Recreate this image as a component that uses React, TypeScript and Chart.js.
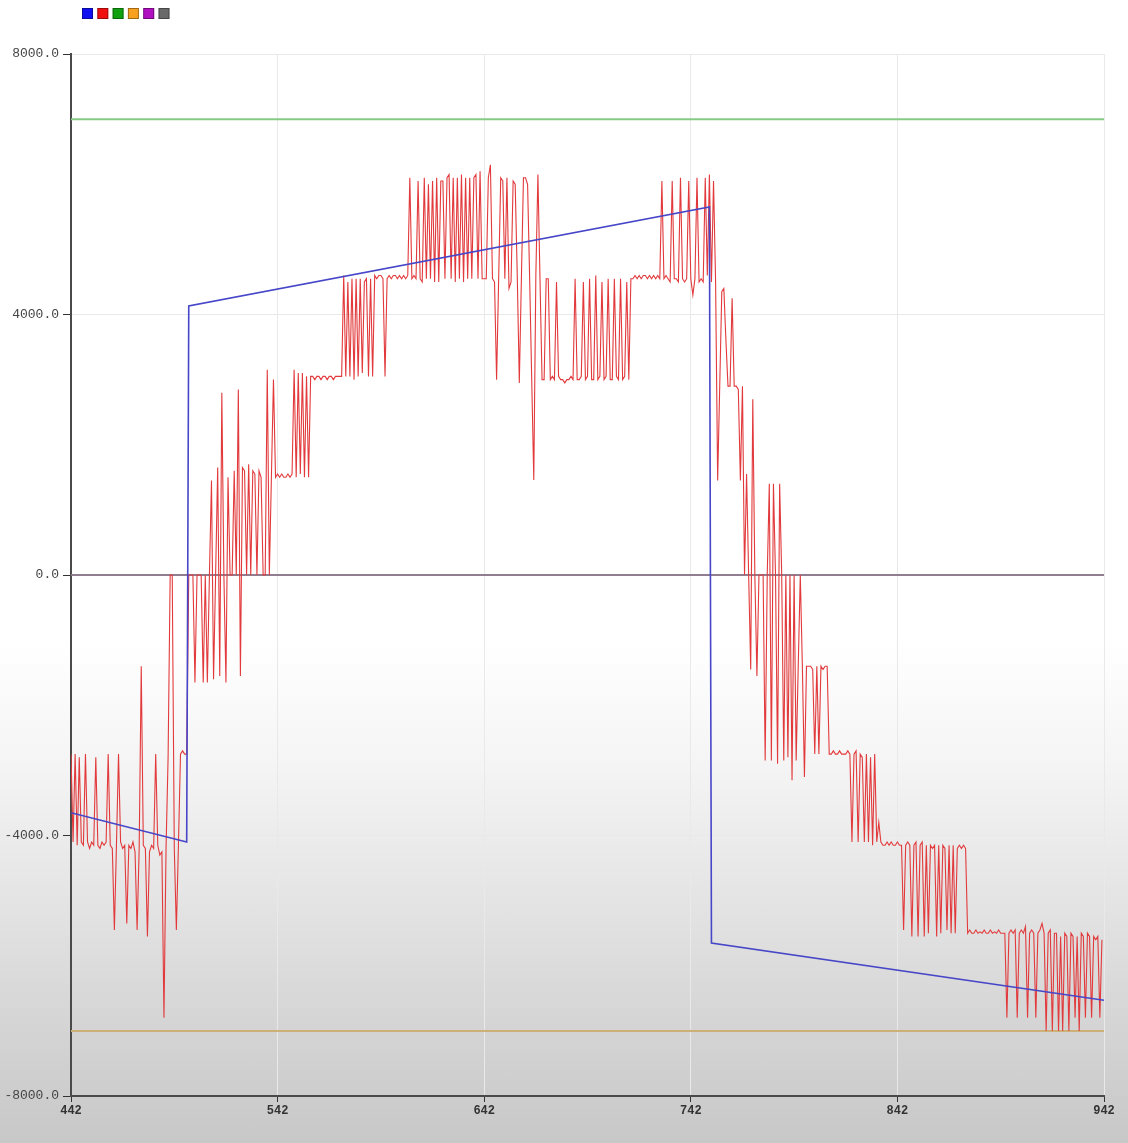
import React, { useEffect, useRef } from "react";
import { Chart, registerables } from "chart.js";

Chart.register(...registerables);

// ---- data ----
const xTicks = [442, 542, 642, 742, 842, 942];
const yTicks = [-8000, -4000, 0, 4000, 8000];
const sampleStart = 442;
const sampleEnd = 942;

const blueX = [442, 498, 499, 751, 752, 942];
const blueY = [-3650, -4100, 4130, 5650, -5650, -6530];

const greenLevel = 7000;
const orangeLevel = -7000;
const purpleLevel = 0;
const grayLevel = 0;

// red samples, one per x from 442 to 941
const redValues = [
  -2750, -4100, -2750, -4150, -2800, -4100, -4150, -2750, -4100, -4200,
  -4100, -4150, -2800, -4150, -4200, -4100, -4150, -4100, -2750, -4150,
  -4200, -5450, -4150, -2750, -4100, -4200, -4150, -5350, -4150, -4200,
  -4100, -4250, -5450, -4200, -1400, -4150, -4200, -5550, -4250, -4150,
  -4200, -2750, -4150, -4300, -4250, -6800, -4200, -2800, 0, 0,
  -4200, -5450, -4150, -2750, -2700, -2750, -2750, 0, 0, 0,
  -1650, 0, 0, 0, -1650, 0, -1650, 0, 1450, -1600,
  0, 1650, -1550, 2800, 0, -1650, 1500, 0, 0, 1600,
  0, 2850, -1550, 1650, 1600, 0, 1700, 0, 1600, 1550,
  0, 1600, 1500, 0, 0, 3150, 0, 1500, 3000, 1500,
  1550, 1500, 1550, 1500, 1500, 1550, 1500, 1550, 3150, 1500,
  3100, 1550, 3100, 1500, 3050, 1500, 3050, 3050, 3000, 3050,
  3050, 3000, 3050, 3050, 3000, 3050, 3050, 3000, 3050, 3050,
  3050, 3050, 4600, 3050, 4500, 3050, 4550, 3000, 4550, 3050,
  4550, 3100, 4500, 4550, 3050, 4550, 3050, 4600, 4550, 4600,
  4600, 4550, 3050, 4550, 4600, 4550, 4600, 4600, 4550, 4600,
  4550, 4600, 4550, 4600, 6100, 4550, 4600, 4550, 6050, 4550,
  4500, 6100, 4550, 6000, 4550, 6050, 4500, 6100, 4500, 6050,
  6050, 4550, 6100, 6150, 4550, 6100, 4500, 6100, 4550, 6150,
  4500, 6100, 4550, 6100, 4550, 6100, 6150, 4550, 6200, 4550,
  4550, 4550, 6100, 6300, 4550, 4500, 3000, 4550, 6100, 6050,
  4550, 6100, 4400, 4500, 6050, 6000, 4600, 2950, 4550, 6100,
  6100, 6000, 4550, 3000, 1460, 4600, 6150, 4550, 3000, 3000,
  4550, 4550, 3000, 3050, 3000, 4500, 3050, 3000, 3000, 2950,
  3000, 3000, 3050, 3000, 4550, 3000, 3000, 3050, 4500, 3000,
  3050, 4550, 3000, 3000, 4600, 3000, 3050, 4500, 3000, 3050,
  4550, 3000, 3000, 4550, 3050, 3000, 4550, 3000, 3050, 4500,
  3000, 4550, 4550, 4600, 4550, 4600, 4550, 4600, 4600, 4550,
  4600, 4550, 4600, 4550, 4600, 4550, 6050, 4550, 4600, 4550,
  4500, 6050, 4550, 4550, 4500, 6100, 4550, 4500, 4550, 6050,
  4550, 4300, 4550, 6100, 4500, 4550, 4500, 6100, 4600, 6150,
  4500, 6050, 4500, 1450, 2900, 4350, 4400, 3600, 2900, 2900,
  4250, 2900, 2900, 2850, 1450, 2900, 0, 1550, 0, -1450,
  2700, 0, -1550, 0, 0, 0, -2850, 0, 1400, -2850,
  1400, 0, -2900, 1400, 0, -2850, 0, -2800, 0, -3150,
  0, -2850, -1400, 0, -1400, -3100, -1400, -1400, -1400, -1450,
  -2750, -1400, -2750, -1400, -1450, -1400, -1400, -2750, -2750, -2700,
  -2750, -2750, -2700, -2750, -2750, -2750, -2700, -2750, -4100, -2750,
  -2700, -4100, -2750, -2800, -4100, -2750, -4100, -2800, -4150, -2750,
  -4100, -3800, -4100, -4150, -4150, -4100, -4150, -4100, -4150, -4150,
  -4100, -4150, -4150, -5450, -4150, -4100, -4150, -5550, -4150, -4100,
  -5550, -4150, -4100, -5550, -4150, -5500, -4150, -4200, -4150, -5550,
  -4150, -5500, -4150, -4200, -5450, -4150, -5500, -4150, -5500, -4200,
  -4150, -4200, -4150, -4200, -5500, -5450, -5500, -5500, -5450, -5500,
  -5480, -5500, -5450, -5500, -5500, -5450, -5500, -5480, -5500, -5450,
  -5500, -5500, -5500, -6800, -5500, -5450, -5500, -5450, -6800, -5500,
  -5450, -5500, -5400, -6800, -5500, -5450, -5500, -6800, -5500, -5450,
  -5350, -5500, -7000, -5500, -5450, -7000, -5500, -5500, -7000, -5550,
  -7000, -5500, -5550, -7000, -5500, -5550, -6800, -5550, -7000, -5500,
  -5550, -6800, -5500, -5550, -6800, -5550, -5600, -5550, -6800, -5600,
];

// ---- styles ----
const lineColors = {
  blue: "#4646c8",
  red: "#e23a3c",
  green: "#86ca86",
  orange: "#cdb078",
  purple: "#a040a0",
  gray: "#858585",
};
const legendColors = ["#1010f0", "#f01010", "#10a010", "#f8a020", "#b010c0", "#6a6a6a"];

const W = 1128;
const H = 1143;

const squareLegend = {
  id: "squareLegend",
  afterDraw(chart: any) {
    const ctx = chart.ctx;
    ctx.save();
    legendColors.forEach((c, i) => {
      const x = 82 + i * 15.3;
      const y = 8;
      ctx.fillStyle = c;
      ctx.fillRect(x, y, 11, 11);
      ctx.strokeStyle = "rgba(0,0,0,0.35)";
      ctx.lineWidth = 1;
      ctx.strokeRect(x + 0.5, y + 0.5, 10, 10);
    });
    ctx.restore();
  },
};

function flat(level: number) {
  return [
    { x: sampleStart, y: level },
    { x: sampleEnd, y: level },
  ];
}

export default function App() {
  const ref = useRef<HTMLCanvasElement | null>(null);

  useEffect(() => {
    if (!ref.current) return;
    const redData = redValues.map((v, i) => ({ x: sampleStart + i, y: v }));
    const blueData = blueX.map((x, i) => ({ x, y: blueY[i] }));
    const common = { pointRadius: 0, tension: 0, fill: false };
    const chart = new Chart(ref.current, {
      type: "line",
      data: {
        datasets: [
          { label: "blue", data: blueData, borderColor: lineColors.blue, borderWidth: 1.6, order: 1, ...common },
          { label: "red", data: redData, borderColor: lineColors.red, borderWidth: 1.1, order: 2, ...common },
          { label: "green", data: flat(greenLevel), borderColor: lineColors.green, borderWidth: 2, order: 3, ...common },
          { label: "orange", data: flat(orangeLevel), borderColor: lineColors.orange, borderWidth: 2, order: 4, ...common },
          { label: "gray", data: flat(grayLevel), borderColor: lineColors.gray, borderWidth: 1.5, order: 5, ...common },
          { label: "purple", data: flat(purpleLevel), borderColor: lineColors.purple, borderWidth: 1.5, order: 6, ...common },
        ],
      },
      options: {
        animation: false,
        responsive: false,
        devicePixelRatio: 1,
        parsing: false as any,
        layout: { padding: { top: 54, right: 24, left: 0, bottom: 0 } },
        plugins: {
          legend: { display: false },
          tooltip: { enabled: false },
        },
        scales: {
          x: {
            type: "linear",
            min: sampleStart,
            max: sampleEnd,
            afterBuildTicks: (s: any) => {
              s.ticks = xTicks.map((v) => ({ value: v }));
            },
            afterFit: (s: any) => {
              s.height = 47;
            },
            grid: {
              color: "#e9e9e9",
              lineWidth: 1,
              tickColor: "#333",
              tickLength: 6,
              drawTicks: true,
            },
            border: { color: "#4a4a4a", width: 2 },
            ticks: {
              color: "#333",
              padding: 2,
              maxRotation: 0,
              font: { family: "'Liberation Mono', 'DejaVu Sans Mono', monospace", size: 12, weight: "bold" },
              callback: (v: any) => String(v),
            },
          },
          y: {
            type: "linear",
            min: -8000,
            max: 8000,
            afterBuildTicks: (s: any) => {
              s.ticks = yTicks.map((v) => ({ value: v }));
            },
            afterFit: (s: any) => {
              s.width = 71;
            },
            grid: {
              color: "#e9e9e9",
              lineWidth: 1,
              tickColor: "#333",
              tickLength: 8,
            },
            border: { color: "#4a4a4a", width: 2 },
            ticks: {
              color: "#444",
              padding: 4,
              font: { family: "'Liberation Mono', 'DejaVu Sans Mono', monospace", size: 13 },
              callback: (v: any) => Number(v).toFixed(1),
            },
          },
        },
      },
      plugins: [squareLegend],
    } as any);
    return () => chart.destroy();
  }, []);

  return (
    <div
      style={{
        position: "fixed",
        left: 0,
        top: 0,
        width: W,
        height: H,
        background:
          "linear-gradient(to bottom, #ffffff 0px, #ffffff 640px, #f5f5f5 760px, #e4e4e4 900px, #d4d4d4 1030px, #c8c8c8 1143px)",
      }}
    >
      <canvas ref={ref} width={W} height={H} style={{ display: "block" }} />
    </div>
  );
}
